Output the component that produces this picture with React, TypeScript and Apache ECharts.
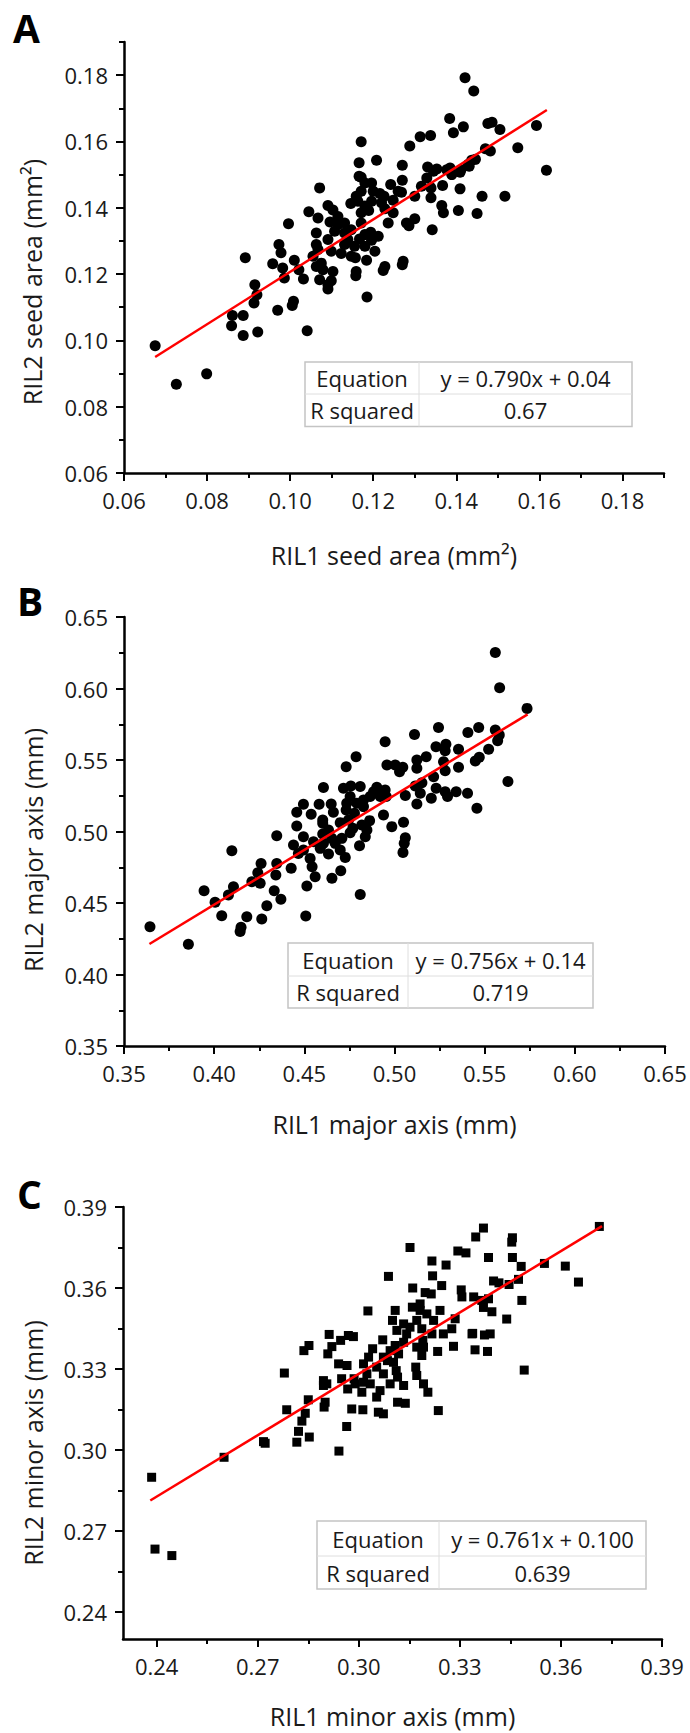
import React, { useEffect, useRef } from "react";
import * as echarts from "echarts";

// ---------- Panel A: seed area (mm²) ----------
const seedAreaRil1 = [
  0.1421, 0.1442, 0.1384, 0.1417, 0.1393, 0.1476, 0.1486, 0.1505, 0.1593, 0.1313,
  0.1338, 0.1171, 0.1288, 0.1548, 0.1482, 0.147, 0.1617, 0.1166, 0.1208, 0.127,
  0.1331, 0.1353, 0.1377, 0.1389, 0.1409, 0.1431, 0.1437, 0.1329, 0.1166, 0.1171,
  0.1196, 0.127, 0.1242, 0.1367, 0.1339, 0.1409, 0.1071, 0.1171, 0.12, 0.1216,
  0.1268, 0.13, 0.1462, 0.1517, 0.1339, 0.1163, 0.1146, 0.118, 0.122, 0.1248,
  0.1228, 0.1248, 0.1365, 0.1369, 0.1405, 0.145, 0.1091, 0.1045, 0.1067, 0.1103,
  0.1171, 0.1189, 0.0996, 0.1096, 0.1115, 0.1171, 0.1236, 0.13, 0.1286, 0.1342,
  0.1063, 0.1107, 0.1131, 0.1147, 0.1194, 0.0973, 0.1063, 0.1091, 0.1139, 0.1167,
  0.1196, 0.0978, 0.1067, 0.1099, 0.1123, 0.1155, 0.118, 0.1204, 0.0892, 0.0958,
  0.0982, 0.101, 0.1021, 0.0986, 0.1032, 0.1063, 0.1079, 0.1103, 0.1071, 0.1091,
  0.1091, 0.1099, 0.1157, 0.1184, 0.1159, 0.1158, 0.1228, 0.1224, 0.1272, 0.127,
  0.0915, 0.092, 0.0913, 0.097, 0.1008, 0.1005, 0.1185, 0.0861, 0.0887, 0.0859,
  0.0887, 0.0922, 0.1041, 0.0675, 0.0726, 0.0799, 0.1115, 0.1131, 0.118, 0.1212,
  0.1147, 0.1196, 0.1345, 0.1411, 0.1429, 0.1316, 0.126, 0.1075, 0.1055, 0.128,
  0.1226, 0.1159, 0.118, 0.1446, 0.1385, 0.1131,
];
const seedAreaRil2 = [
  0.1792, 0.1752, 0.1669, 0.1644, 0.1626, 0.1654, 0.1658, 0.1636, 0.1648, 0.1614,
  0.1618, 0.1599, 0.1586, 0.1581, 0.1571, 0.1578, 0.1513, 0.1536, 0.1543, 0.1528,
  0.1523, 0.1517, 0.1515, 0.15, 0.1507, 0.1525, 0.1543, 0.149, 0.1495, 0.1492,
  0.1475, 0.1483, 0.147, 0.1467, 0.146, 0.1457, 0.146, 0.145, 0.145, 0.1443,
  0.1447, 0.1435, 0.1435, 0.1435, 0.143, 0.142, 0.1413, 0.1405, 0.1415, 0.1423,
  0.1397, 0.1385, 0.1407, 0.1385, 0.1392, 0.1383, 0.1407, 0.1388, 0.1369, 0.1393,
  0.1385, 0.1392, 0.1352, 0.1357, 0.1349, 0.1354, 0.1354, 0.1367, 0.1346, 0.1334,
  0.1324, 0.1329, 0.1324, 0.1334, 0.1326, 0.1289, 0.1289, 0.1304, 0.1304, 0.1306,
  0.1302, 0.1264, 0.1274, 0.1269, 0.1262, 0.1284, 0.1284, 0.1269, 0.1249, 0.1231,
  0.1218, 0.1242, 0.1213, 0.1188, 0.1185, 0.1223, 0.1213, 0.1208, 0.1183, 0.1168,
  0.1155, 0.118, 0.1249, 0.1242, 0.1208, 0.1195, 0.1223, 0.1211, 0.1239, 0.1228,
  0.1168, 0.1138, 0.1113, 0.1091, 0.1118, 0.1105, 0.1131, 0.1075, 0.1075, 0.1044,
  0.1015, 0.1025, 0.1029, 0.0984, 0.0868, 0.0899, 0.1374, 0.1289, 0.1319, 0.1314,
  0.1254, 0.142, 0.151, 0.1515, 0.1531, 0.1465, 0.145, 0.1233, 0.1254, 0.1354,
  0.1435, 0.1435, 0.1475, 0.1546, 0.152, 0.1354,
];
const seedAreaFitX = [0.0675, 0.1618];
const seedAreaFitY = [0.095, 0.1695];
const seedAreaMajorTicks = [0.06, 0.08, 0.1, 0.12, 0.14, 0.16, 0.18];
const seedAreaMinorTicks = [0.07, 0.09, 0.11, 0.13, 0.15, 0.17, 0.19];
const seedAreaTable = ["Equation", "y = 0.790x + 0.04", "R squared", "0.67"];

// ---------- Panel B: major axis (mm) ----------
const majorAxisRil1 = [
  0.5559, 0.5583, 0.5735, 0.5244, 0.5111, 0.4948, 0.5467, 0.5407, 0.5559, 0.5572,
  0.523, 0.5285, 0.5355, 0.5522, 0.547, 0.5448, 0.4787, 0.4732, 0.5176, 0.5124,
  0.5272, 0.4958, 0.5004, 0.5046, 0.5028, 0.5124, 0.5281, 0.5355, 0.5217, 0.5629,
  0.4606, 0.4717, 0.4758, 0.481, 0.4902, 0.4948, 0.5115, 0.5152, 0.5231, 0.5281,
  0.5342, 0.5405, 0.5457, 0.5204, 0.5294, 0.506, 0.5124, 0.4495, 0.4582, 0.4649,
  0.4735, 0.4791, 0.4828, 0.4865, 0.4921, 0.4458, 0.4538, 0.4661, 0.4732, 0.4778,
  0.4939, 0.4602, 0.4458, 0.4602, 0.4699, 0.4769, 0.4819, 0.4862, 0.4985, 0.505,
  0.4347, 0.444, 0.4495, 0.4551, 0.4602, 0.4652, 0.4708, 0.4754, 0.4838, 0.4806,
  0.506, 0.5054, 0.5047, 0.4098, 0.426, 0.4347, 0.4467, 0.4532, 0.4588, 0.4634,
  0.4699, 0.4727, 0.4427, 0.4543, 0.456, 0.4702, 0.4653, 0.4342, 0.4242, 0.4209,
  0.4255, 0.4107, 0.4079, 0.3944, 0.4005, 0.4042, 0.4181, 0.4149, 0.4144, 0.4264,
  0.4292, 0.4333, 0.437, 0.4514, 0.4508, 0.481, 0.3644, 0.3857, 0.4754, 0.4828,
  0.4884, 0.4606, 0.4495, 0.4671, 0.5143, 0.5581, 0.5281, 0.4954, 0.4745, 0.4847,
  0.4634,
];
const majorAxisRil2 = [
  0.6251, 0.6006, 0.5861, 0.5728, 0.5679, 0.5628, 0.5728, 0.5693, 0.571, 0.5635,
  0.5593, 0.561, 0.5575, 0.5575, 0.5519, 0.5493, 0.5523, 0.5453, 0.5523, 0.55,
  0.5488, 0.5465, 0.5465, 0.5449, 0.5418, 0.5442, 0.5425, 0.5449, 0.5383, 0.5349,
  0.5307, 0.5302, 0.5318, 0.5314, 0.5309, 0.529, 0.5318, 0.5341, 0.5302, 0.5278,
  0.5278, 0.5267, 0.5162, 0.5232, 0.5244, 0.5251, 0.5192, 0.519, 0.519, 0.5192,
  0.5197, 0.5197, 0.522, 0.5244, 0.5244, 0.5134, 0.512, 0.5134, 0.515, 0.5127,
  0.5115, 0.508, 0.5038, 0.5057, 0.5062, 0.5022, 0.5045, 0.5076, 0.5034, 0.5064,
  0.4971, 0.4906, 0.4964, 0.4929, 0.4983, 0.4952, 0.4952, 0.4992, 0.4964, 0.4901,
  0.4957, 0.4917, 0.4854, 0.4866, 0.4777, 0.4777, 0.4847, 0.4812, 0.4882, 0.4842,
  0.4871, 0.4819, 0.4743, 0.4754, 0.4684, 0.4726, 0.4673, 0.4696, 0.4712, 0.4649,
  0.4638, 0.4614, 0.4556, 0.4586, 0.4505, 0.4411, 0.4404, 0.433, 0.43, 0.4388,
  0.4481, 0.4586, 0.4526, 0.4619, 0.4409, 0.456, 0.4334, 0.4211, 0.5244, 0.5174,
  0.5278, 0.4917, 0.4871, 0.4917, 0.5267, 0.5675, 0.5565, 0.5244, 0.508, 0.5011,
  0.5011,
];
const majorAxisFitX = [0.3641, 0.5738];
const majorAxisFitY = [0.4213, 0.5819];
const majorAxisMajorTicks = [0.35, 0.4, 0.45, 0.5, 0.55, 0.6, 0.65];
const majorAxisMinorTicks = [0.375, 0.425, 0.475, 0.525, 0.575, 0.625];
const majorAxisTable = ["Equation", "y = 0.756x + 0.14", "R squared", "0.719"];

// ---------- Panel C: minor axis (mm) ----------
const minorAxisRil1 = [
  0.3714, 0.3613, 0.3652, 0.3551, 0.3491, 0.3484, 0.3474, 0.3482, 0.3456, 0.3454,
  0.3456, 0.3439, 0.337, 0.3347, 0.3385, 0.3318, 0.3294, 0.3152, 0.3088, 0.3217,
  0.3219, 0.3246, 0.3259, 0.316, 0.3197, 0.3215, 0.3304, 0.3306, 0.3341, 0.337,
  0.3395, 0.3365, 0.34, 0.3416, 0.3446, 0.3385, 0.3338, 0.3373, 0.339, 0.3345,
  0.3382, 0.3281, 0.3234, 0.3236, 0.3027, 0.2385, 0.2395, 0.2445, 0.26, 0.2717,
  0.2722, 0.2779, 0.2786, 0.2816, 0.2821, 0.2831, 0.2841, 0.2853, 0.285, 0.2837,
  0.2852, 0.2895, 0.29, 0.2897, 0.2912, 0.292, 0.2908, 0.2905, 0.2946, 0.2969,
  0.2984, 0.294, 0.2965, 0.2941, 0.2964, 0.2967, 0.2979, 0.2986, 0.3012, 0.3009,
  0.3014, 0.3029, 0.3024, 0.3041, 0.3053, 0.3071, 0.3058, 0.3073, 0.3073, 0.3085,
  0.3093, 0.31, 0.3113, 0.3108, 0.3118, 0.3103, 0.3111, 0.3115, 0.3133, 0.3115,
  0.3138, 0.3142, 0.3159, 0.3172, 0.3182, 0.3187, 0.319, 0.3192, 0.3187, 0.3169,
  0.3172, 0.3192, 0.3205, 0.3217, 0.3241, 0.3251, 0.3276, 0.3286, 0.3336, 0.3014,
  0.3034, 0.3063, 0.3133, 0.3152, 0.3093, 0.3073, 0.3172, 0.3222, 0.3202, 0.3182,
  0.3108, 0.3133, 0.2989, 0.2949, 0.2895, 0.3053,
];
const minorAxisRil2 = [
  0.3828, 0.3681, 0.3622, 0.3691, 0.3296, 0.3554, 0.3632, 0.368, 0.3713, 0.377,
  0.3786, 0.3485, 0.3822, 0.3789, 0.3713, 0.373, 0.3737, 0.375, 0.3643, 0.37,
  0.3645, 0.3609, 0.3685, 0.36, 0.3583, 0.3578, 0.3593, 0.3567, 0.3567, 0.3528,
  0.3512, 0.3554, 0.3626, 0.3619, 0.3613, 0.356, 0.3432, 0.3426, 0.343, 0.3371,
  0.3365, 0.3384, 0.3365, 0.3146, 0.3515, 0.2899, 0.2633, 0.2609, 0.2973, 0.3031,
  0.3025, 0.3285, 0.3149, 0.3029, 0.3069, 0.3107, 0.3136, 0.3048, 0.3186, 0.3368,
  0.3387, 0.3257, 0.3177, 0.3159, 0.3428, 0.3383, 0.3356, 0.3245, 0.3406, 0.3424,
  0.342, 0.3319, 0.3313, 0.2996, 0.3087, 0.3226, 0.3152, 0.3264, 0.3149, 0.3214,
  0.3251, 0.3344, 0.3282, 0.3375, 0.3307, 0.3408, 0.314, 0.3134, 0.3282, 0.3331,
  0.3245, 0.348, 0.3443, 0.3387, 0.3356, 0.3325, 0.3294, 0.327, 0.3239, 0.3177,
  0.3173, 0.343, 0.3529, 0.348, 0.3517, 0.3449, 0.3406, 0.3381, 0.335, 0.3307,
  0.3276, 0.3245, 0.3214, 0.343, 0.3517, 0.343, 0.3449, 0.3486, 0.343, 0.3319,
  0.3245, 0.322, 0.3399, 0.3455, 0.3368, 0.3344, 0.3381, 0.348, 0.3504, 0.3541,
  0.3517, 0.3467, 0.3245, 0.3264, 0.3239, 0.3196,
];
const minorAxisFitX = [0.2381, 0.3722];
const minorAxisFitY = [0.2813, 0.3829];
const minorAxisMajorTicks = [0.24, 0.27, 0.3, 0.33, 0.36, 0.39];
const minorAxisMinorTicks = [0.255, 0.285, 0.315, 0.345, 0.375];
const minorAxisTable = ["Equation", "y = 0.761x + 0.100", "R squared", "0.639"];

const FONT = "'Open Sans', 'DejaVu Sans', sans-serif";
const TEXT = "#1a1a1a";

type Panel = {
  letter: string;
  letterPos: [number, number];
  xs: number[];
  ys: number[];
  fitX: number[];
  fitY: number[];
  min: number;
  max: number;
  major: number[];
  minor: number[];
  xName: string;
  yName: string;
  yNamePos: [number, number];
  symbol: string;
  size: number;
  grid: { left: number; top: number; width: number; height: number };
  xNameGap: number;
  table: string[];
  tableBox: { x0: number; x1: number; x2: number; y0: number; y1: number; y2: number };
};

const panels: Panel[] = [
  {
    letter: "A",
    letterPos: [13, 28],
    xs: seedAreaRil1,
    ys: seedAreaRil2,
    fitX: seedAreaFitX,
    fitY: seedAreaFitY,
    min: 0.06,
    max: 0.19,
    major: seedAreaMajorTicks,
    minor: seedAreaMinorTicks,
    xName: "RIL1 seed area (mm²)",
    yName: "RIL2 seed area (mm²)",
    yNamePos: [32, 282],
    symbol: "circle",
    size: 11,
    grid: { left: 124, top: 42, width: 540, height: 431 },
    xNameGap: 69,
    table: seedAreaTable,
    tableBox: { x0: 305, x1: 419, x2: 632, y0: 362, y1: 394, y2: 426.5 },
  },
  {
    letter: "B",
    letterPos: [17, 601],
    xs: majorAxisRil1,
    ys: majorAxisRil2,
    fitX: majorAxisFitX,
    fitY: majorAxisFitY,
    min: 0.35,
    max: 0.65,
    major: majorAxisMajorTicks,
    minor: majorAxisMinorTicks,
    xName: "RIL1 major axis (mm)",
    yName: "RIL2 major axis (mm)",
    yNamePos: [33, 850],
    symbol: "circle",
    size: 11,
    grid: { left: 124, top: 617, width: 541, height: 429 },
    xNameGap: 65,
    table: majorAxisTable,
    tableBox: { x0: 288, x1: 408, x2: 593, y0: 943, y1: 976, y2: 1008 },
  },
  {
    letter: "C",
    letterPos: [17, 1194],
    xs: minorAxisRil1,
    ys: minorAxisRil2,
    fitX: minorAxisFitX,
    fitY: minorAxisFitY,
    min: 0.23,
    max: 0.39,
    major: minorAxisMajorTicks,
    minor: minorAxisMinorTicks,
    xName: "RIL1 minor axis (mm)",
    yName: "RIL2 minor axis (mm)",
    yNamePos: [33, 1443],
    symbol: "rect",
    size: 9,
    grid: { left: 123, top: 1207, width: 539, height: 432 },
    xNameGap: 64,
    table: minorAxisTable,
    tableBox: { x0: 317, x1: 439, x2: 646, y0: 1521, y1: 1556, y2: 1589 },
  },
];

const zip = (a: number[], b: number[]) => a.map((v, i) => [v, b[i]]);

function buildOption() {
  const grid: any[] = [];
  const xAxis: any[] = [];
  const yAxis: any[] = [];
  const series: any[] = [];
  const graphic: any[] = [];

  const labelStyle = { fontFamily: FONT, fontSize: 22, color: TEXT };
  const nameStyle = { fontFamily: FONT, fontSize: 25, color: TEXT };

  panels.forEach((p, i) => {
    grid.push({ ...p.grid, containLabel: false });

    const majorAxis = (dim: "x" | "y") => ({
      type: "value",
      gridIndex: i,
      position: dim === "x" ? "bottom" : "left",
      min: p.min,
      max: p.max,
      name: dim === "x" ? p.xName : "",
      nameLocation: "middle",
      nameGap: p.xNameGap,
      nameTextStyle: nameStyle,
      axisLine: { show: true, onZero: false, lineStyle: { color: "#000", width: 2.5 } },
      axisTick: {
        show: true,
        inside: false,
        length: 8,
        customValues: p.major,
        lineStyle: { color: "#000", width: 2 },
      },
      axisLabel: {
        show: true,
        customValues: p.major,
        margin: 16,
        ...labelStyle,
        formatter: (v: number) => v.toFixed(2),
      },
      splitLine: { show: false },
    });
    const minorAxis = (dim: "x" | "y") => ({
      type: "value",
      gridIndex: i,
      position: dim === "x" ? "bottom" : "left",
      min: p.min,
      max: p.max,
      axisLine: { show: false, onZero: false },
      axisTick: {
        show: true,
        inside: false,
        length: 5,
        customValues: p.minor,
        lineStyle: { color: "#000", width: 2 },
      },
      axisLabel: { show: false },
      splitLine: { show: false },
    });

    xAxis.push(majorAxis("x"), minorAxis("x"));
    yAxis.push(majorAxis("y"), minorAxis("y"));

    series.push({
      type: "scatter",
      xAxisIndex: 2 * i,
      yAxisIndex: 2 * i,
      data: zip(p.xs, p.ys),
      symbol: p.symbol,
      symbolSize: p.size,
      itemStyle: { color: "#000", opacity: 1 },
      z: 2,
    });
    series.push({
      type: "line",
      xAxisIndex: 2 * i,
      yAxisIndex: 2 * i,
      data: zip(p.fitX, p.fitY),
      symbol: "none",
      showSymbol: false,
      lineStyle: { color: "#ff0000", width: 2.5 },
      z: 3,
    });

    // y-axis title (rotated, reads bottom to top)
    graphic.push({
      type: "text",
      x: p.yNamePos[0],
      y: p.yNamePos[1],
      rotation: Math.PI / 2,
      style: {
        text: p.yName,
        fontFamily: FONT,
        fontSize: 25,
        fill: TEXT,
        align: "center",
        verticalAlign: "middle",
        textAlign: "center",
        textVerticalAlign: "middle",
      },
      z: 10,
    });

    // panel letter
    graphic.push({
      type: "text",
      left: p.letterPos[0],
      top: p.letterPos[1] - 20,
      style: {
        text: p.letter,
        fontFamily: FONT,
        fontWeight: "bold",
        fontSize: 39,
        fill: "#000",
      },
      z: 10,
    });

    // regression table
    const t = p.tableBox;
    graphic.push({
      type: "rect",
      shape: { x: t.x0, y: t.y0, width: t.x2 - t.x0, height: t.y2 - t.y0 },
      style: { fill: "#fff", stroke: "#c4c4c4", lineWidth: 1.5 },
      z: 10,
    });
    graphic.push({
      type: "line",
      shape: { x1: t.x1, y1: t.y0, x2: t.x1, y2: t.y2 },
      style: { stroke: "#dedede", lineWidth: 1 },
      z: 11,
    });
    graphic.push({
      type: "line",
      shape: { x1: t.x0, y1: t.y1, x2: t.x2, y2: t.y1 },
      style: { stroke: "#dedede", lineWidth: 1 },
      z: 11,
    });
    const cells = [
      [p.table[0], (t.x0 + t.x1) / 2, (t.y0 + t.y1) / 2],
      [p.table[1], (t.x1 + t.x2) / 2, (t.y0 + t.y1) / 2],
      [p.table[2], (t.x0 + t.x1) / 2, (t.y1 + t.y2) / 2],
      [p.table[3], (t.x1 + t.x2) / 2, (t.y1 + t.y2) / 2],
    ] as [string, number, number][];
    cells.forEach(([text, cx, cy]) => {
      graphic.push({
        type: "text",
        x: cx,
        y: cy,
        style: {
          text,
          fontFamily: FONT,
          fontSize: 22,
          fill: TEXT,
          align: "center",
          verticalAlign: "middle",
          textAlign: "center",
          textVerticalAlign: "middle",
        },
        z: 12,
      });
    });
  });

  return {
    animation: false,
    backgroundColor: "#fff",
    grid,
    xAxis,
    yAxis,
    series,
    graphic,
  };
}

export default function App() {
  const ref = useRef<HTMLDivElement>(null);
  useEffect(() => {
    if (!ref.current) return;
    const chart = echarts.init(ref.current, undefined, { renderer: "svg" });
    chart.setOption(buildOption() as any);
    return () => chart.dispose();
  }, []);
  return (
    <div
      ref={ref}
      style={{ position: "absolute", left: 0, top: 0, width: 690, height: 1733, background: "#fff" }}
    />
  );
}
